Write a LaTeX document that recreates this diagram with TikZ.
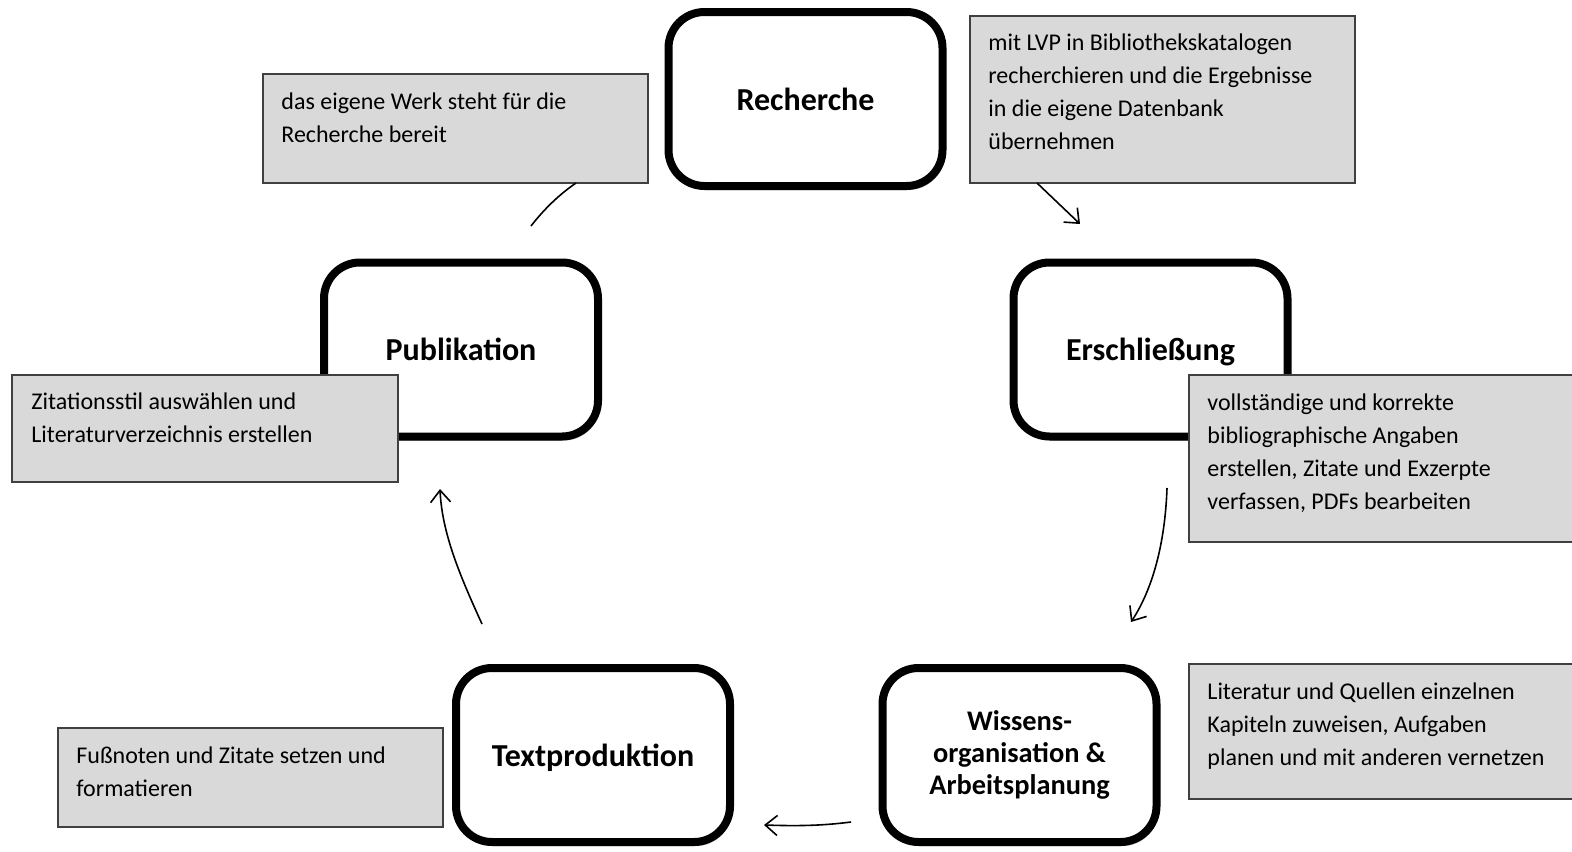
\documentclass[tikz,border=0pt]{standalone}
\usepackage{fontspec}
\setmainfont{Carlito}
\usetikzlibrary{arrows.meta,shadows}

\definecolor{notegray}{HTML}{D9D9D9}
\definecolor{noteline}{HTML}{404040}

\tikzset{
  stagebox/.style={draw=black, line width=4pt, rounded corners=18pt, fill=white,
    minimum width=137pt, minimum height=87pt, align=center, text depth=0pt,
    font=\fontsize{16}{15.8}\selectfont\bfseries,
    drop shadow={shadow xshift=1pt, shadow yshift=-2pt, opacity=0.3, fill=black}},
  notebox/.style={draw=noteline, line width=1pt, fill=notegray, anchor=north west, inner sep=0pt},
  notetext/.style={anchor=north west, inner sep=0pt, align=left,
    font=\fontsize{12}{16.5}\selectfont},
  flow/.style={line width=0.8pt, -{Straight Barb[length=6pt,width=10pt]}},
}

\begin{document}
\begin{tikzpicture}[x=0.5pt, y=-0.5pt]
\useasboundingbox (0,0) rectangle (1572,851);
% Stationen
\node[stagebox] (S_rech) at (805.5,99) {Recherche};
\node[stagebox] (S_ersch) at (1150.5,349.5) {Erschließung};
\node[stagebox, text depth=, font=\fontsize{14.2}{15.8}\selectfont\bfseries] (S_wiss) at (1019.5,755) {Wissens-\\organisation \&\\Arbeitsplanung};
\node[stagebox] (S_text) at (593,755) {Textproduktion};
\node[stagebox] (S_publ) at (461,349.5) {Publikation};
% Notizen
\node[notebox, minimum width=192.5pt, minimum height=54.5pt] (N_publ) at (262,73) {};
\node[notetext] at ([shift={(19,19)}]N_publ.north west) {das eigene Werk steht für die\\Recherche bereit};
\node[notebox, minimum width=192.5pt, minimum height=83.5pt] (N_rech) at (969,15) {};
\node[notetext] at ([shift={(19,18)}]N_rech.north west) {mit LVP in Bibliothekskatalogen\\recherchieren und die Ergebnisse\\in die eigene Datenbank\\übernehmen};
\node[notebox, minimum width=193pt, minimum height=53.5pt] (N_zit) at (11,374) {};
\node[notetext] at ([shift={(20,18)}]N_zit.north west) {Zitationsstil auswählen und\\Literaturverzeichnis erstellen};
\node[notebox, minimum width=196pt, minimum height=83.5pt] (N_ersch) at (1188,374) {};
\node[notetext] at ([shift={(19,19)}]N_ersch.north west) {vollständige und korrekte\\bibliographische Angaben\\erstellen, Zitate und Exzerpte\\verfassen, PDFs bearbeiten};
\node[notebox, minimum width=192.5pt, minimum height=49.5pt] (N_text) at (57,727) {};
\node[notetext] at ([shift={(19,19)}]N_text.north west) {Fußnoten und Zitate setzen und\\formatieren};
\node[notebox, minimum width=196pt, minimum height=67.5pt] (N_wiss) at (1188,663) {};
\node[notetext] at ([shift={(19,19)}]N_wiss.north west) {Literatur und Quellen einzelnen\\Kapiteln zuweisen, Aufgaben\\planen und mit anderen vernetzen};
% Pfeile
\coordinate (a1) at (1037,183);
\coordinate (b1) at (1080,224);
\coordinate (a2) at (1167,488);
\coordinate (b2) at (1131,622);
\coordinate (a3) at (851,822);
\coordinate (b3) at (764,825);
\coordinate (a4) at (482,624);
\coordinate (b4) at (440,489);
\coordinate (a5) at (531,226);
\coordinate (b5) at (576,183);
\draw[flow] (a1) -- (b1);
\draw[flow] (a2) .. controls (1165,545) and (1152,590) .. (b2);
\draw[flow] (a3) .. controls (820,826) and (795,826) .. (b3);
\draw[flow] (a4) .. controls (462,580) and (442,535) .. (b4);
\draw[line width=0.8pt] (a5) .. controls (545,208) and (560,194) .. (b5);
\end{tikzpicture}
\end{document}
